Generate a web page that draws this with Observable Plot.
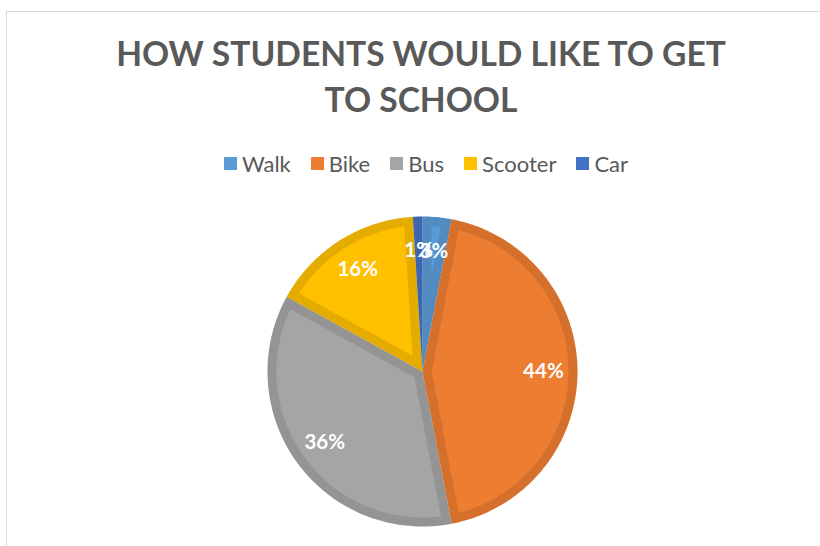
<!DOCTYPE html>
<html><head><meta charset="utf-8">
<script src="https://cdn.jsdelivr.net/npm/d3@7"></script>
<script src="https://cdn.jsdelivr.net/npm/@observablehq/plot@0.6"></script>
<style>
body{margin:0;background:#fff;}
#wrap{position:relative;width:820px;height:546px;overflow:hidden;font-family:Lato,sans-serif;}
#frame{position:absolute;left:6px;top:11px;width:900px;height:600px;border-left:1px solid #d9d9d9;border-top:1px solid #d9d9d9;}
#title{position:absolute;left:0;top:30px;width:842px;text-align:center;font-weight:700;font-size:33.6px;line-height:46px;color:#595959;}
#legend{position:absolute;left:0;top:151px;width:852px;}
#legend .lg-swatches{font-family:Lato,sans-serif !important;font-size:22px !important;color:#595959;margin:0 !important;line-height:25px;min-height:0 !important;justify-content:center;}
#legend .lg-swatch{margin-right:20px !important;}
#legend .lg-swatch:last-child{margin-right:0 !important;}
#legend .lg-swatch > svg{margin-right:5px !important;}
#chart{position:absolute;left:0;top:190px;}
</style></head>
<body><div id="wrap"><div id="frame"></div>
<div id="title">HOW STUDENTS WOULD LIKE TO GET<br>TO SCHOOL</div>
<div id="legend"></div><div id="chart"></div></div>
<script>
const categories = ["Walk", "Bike", "Bus", "Scooter", "Car"];
const values = [3, 44, 36, 16, 1];
const labels = ["3%", "44%", "36%", "16%", "1%"];
const colors = ["#5B9BD5", "#ED7D31", "#A5A5A5", "#FFC000", "#4472C4"];

const arcs = d3.pie().sort(null)(values);
const D = 9 / 155;          // inset border width (unit radius)
const R2 = 1 - D;
const step = Math.PI / 180;
const pt = (a, r) => [r * Math.sin(a), r * Math.cos(a)];

const outer = [], inner = [], textPts = [];
arcs.forEach((a, i) => {
  const key = categories[i];
  const a0 = a.startAngle, a1 = a.endAngle;
  outer.push({key, x: 0, y: 0});
  for (let t = a0; t < a1; t += step) { const [x, y] = pt(t, 1); outer.push({key, x, y}); }
  { const [x, y] = pt(a1, 1); outer.push({key, x, y}); }
  const h = (a1 - a0) / 2, m = (a0 + a1) / 2;
  const s = h < Math.PI / 2 ? D / Math.sin(h) : 0;
  if (s < R2 - 0.01) {
    const A = pt(m, s);
    const hit = (ang) => {
      const u = [Math.sin(ang), Math.cos(ang)];
      const b = A[0] * u[0] + A[1] * u[1];
      const c = s * s - R2 * R2;
      const tt = -b + Math.sqrt(b * b - c);
      const P = [A[0] + tt * u[0], A[1] + tt * u[1]];
      return Math.atan2(P[0], P[1]);
    };
    let b0 = hit(a0), b1 = hit(a1);
    if (b0 < a0 - 1) b0 += 2 * Math.PI;
    while (b1 < b0) b1 += 2 * Math.PI;
    inner.push({key, x: A[0], y: A[1]});
    for (let t = b0; t < b1; t += step) { const [x, y] = pt(t, R2); inner.push({key, x, y}); }
    { const [x, y] = pt(b1, R2); inner.push({key, x, y}); }
  }
  const [tx, ty] = pt(m, 0.78);
  textPts.push({key, x: tx, y: ty, label: labels[i]});
});

const cx = 422, cy = 181, R = 155;
const chart = Plot.plot({
  width: 820, height: 356, margin: 0,
  x: {domain: [-1, 1], range: [cx - R, cx + R], axis: null},
  y: {domain: [-1, 1], range: [cy + R, cy - R], axis: null},
  color: {domain: categories, range: colors},
  style: {background: "transparent", overflow: "visible"},
  marks: [
    Plot.line(outer, {x: "x", y: "y", z: "key", fill: "key", stroke: "none", curve: "linear-closed"}),
    Plot.line(outer, {x: "x", y: "y", z: "key", fill: "black", fillOpacity: 0.1, stroke: "none", curve: "linear-closed"}),
    Plot.line(inner, {x: "x", y: "y", z: "key", fill: "key", stroke: "none", curve: "linear-closed"}),
    Plot.text(textPts, {x: "x", y: "y", text: "label", fill: "white", fontSize: 20.5, fontWeight: "bold", fontFamily: "Lato, sans-serif"})
  ]
});
document.getElementById("chart").appendChild(chart);

const legend = Plot.legend({color: {domain: categories, range: colors}, legend: "swatches", swatchSize: 13, className: "lg"});
document.getElementById("legend").appendChild(legend);
</script></body></html>
